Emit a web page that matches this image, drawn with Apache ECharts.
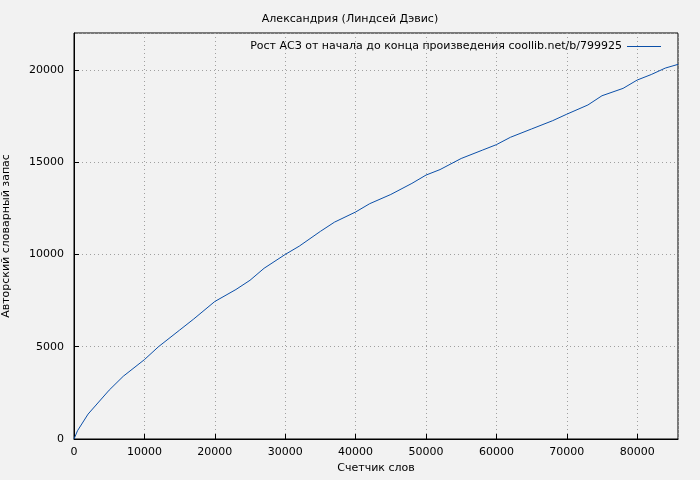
<!DOCTYPE html>
<html>
<head>
<meta charset="utf-8">
<script src="https://cdn.jsdelivr.net/npm/echarts@6/dist/echarts.min.js"></script>
<style>html,body{margin:0;padding:0;background:#f2f2f2;}#c{width:700px;height:480px;}</style>
</head>
<body>
<div id="c"></div>
<script>
// words counted vs. authorial vocabulary
var wordCounts = [0, 500, 2000, 5000, 7000, 10000, 12000, 15000, 17000, 20000, 23000, 25000, 27000, 30000, 32000, 35000, 37000, 40000, 42000, 45000, 48000, 50000, 52000, 55000, 58000, 60000, 62000, 65000, 68000, 70000, 73000, 75000, 78000, 80000, 82000, 84000, 85800];
var vocabulary = [0, 450, 1350, 2650, 3400, 4300, 5000, 5900, 6500, 7450, 8100, 8600, 9250, 10000, 10450, 11250, 11750, 12300, 12750, 13250, 13850, 14300, 14600, 15200, 15650, 15950, 16350, 16800, 17250, 17600, 18100, 18600, 19000, 19450, 19750, 20100, 20300];

var chart = echarts.init(document.getElementById('c'));
var font = 'DejaVu Sans';
var dotted = { show: true, lineStyle: { color: '#a0a0a0', type: [1, 3], width: 1 } };
var plain = function (v) { return String(v); };

option = {
    backgroundColor: '#f2f2f2',
    animation: false,
    textStyle: { fontFamily: font },
    title: {
        text: 'Александрия (Линдсей Дэвис)',
        left: 'center', top: 9,
        textStyle: { fontSize: 11, fontWeight: 'normal', color: '#000', fontFamily: font }
    },
    legend: {
        right: 34, top: 36,
        align: 'right',
        itemWidth: 34, itemHeight: 1,
        icon: 'rect',
        textStyle: { fontSize: 11, color: '#000', fontFamily: font },
        data: ['Рост АСЗ от начала до конца произведения coollib.net/b/799925']
    },
    grid: { left: 74, right: 22, top: 33, bottom: 41, containLabel: false, outerBoundsMode: 'none', show: true, borderColor: '#000', borderWidth: 1 },
    xAxis: {
        type: 'value', min: 0, max: 85800, interval: 10000,
        name: 'Счетчик слов', nameLocation: 'middle', nameGap: 24,
        nameTextStyle: { fontSize: 11, color: '#000' },
        axisLine: { lineStyle: { color: '#000' } },
        axisTick: { inside: true, length: 5, lineStyle: { color: '#000' } },
        axisLabel: { fontSize: 11, color: '#000', margin: 8, showMaxLabel: false, formatter: plain },
        splitLine: dotted
    },
    yAxis: {
        type: 'value', min: 0, max: 22000, interval: 5000,
        name: 'Авторский словарный запас', nameLocation: 'middle', nameGap: 62,
        nameTextStyle: { fontSize: 11, color: '#000' },
        axisLine: { show: true, lineStyle: { color: '#000' } },
        axisTick: { show: true, inside: true, length: 5, lineStyle: { color: '#000' } },
        axisLabel: { fontSize: 11, color: '#000', margin: 10, showMaxLabel: false, formatter: plain },
        splitLine: dotted
    },
    series: [{
        name: 'Рост АСЗ от начала до конца произведения coollib.net/b/799925',
        type: 'line',
        showSymbol: false,
        color: '#0b4fa8',
        lineStyle: { width: 1, color: '#0b4fa8' },
        data: wordCounts.map(function (x, i) { return [x, vocabulary[i]]; })
    }]
};

chart.setOption(option);
</script>
</body>
</html>
